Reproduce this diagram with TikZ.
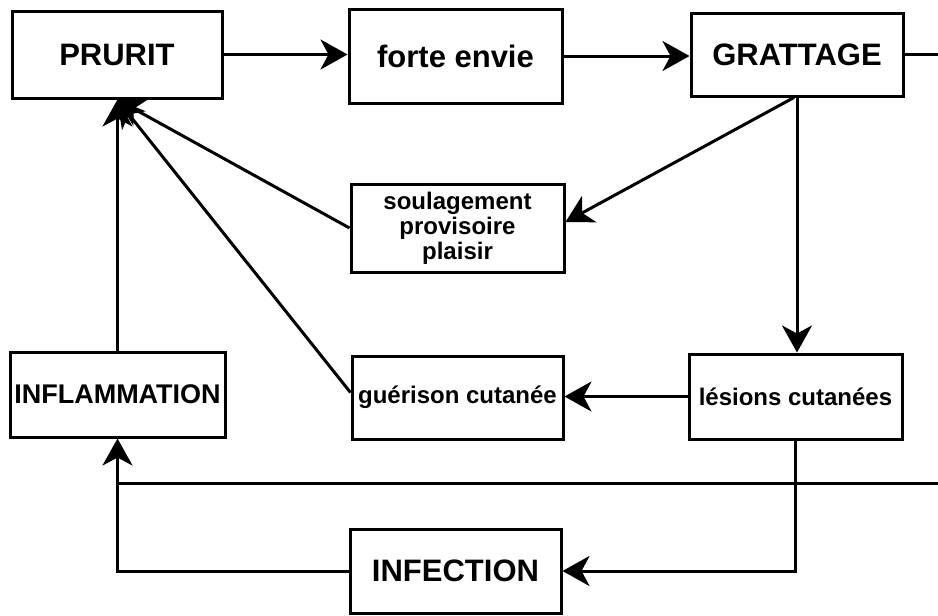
\documentclass[tikz,border=0pt]{standalone}
\usepackage{fontspec}
\setmainfont{Liberation Sans}
\usetikzlibrary{arrows.meta,calc}
\begin{document}
\begin{tikzpicture}[x=1pt,y=-1pt,
  box/.style={draw=black,line width=3pt,fill=white,inner sep=0pt,anchor=center,
    minimum width=211pt,minimum height=86pt},
  big/.style={font=\bfseries\fontsize{31}{33}\selectfont},
  small/.style={font=\bfseries\fontsize{24}{25}\selectfont,align=center},
  conn/.style={line width=3pt},
  arr/.style={conn,-{Stealth[length=27pt,width=30pt,inset=8pt]}}]
\useasboundingbox (0,0) rectangle (938,616);
% nodes
\node[box,big,minimum width=210pt,minimum height=87pt] (prurit) at (117,54.5) {PRURIT};
\node[box,big,minimum width=213pt,minimum height=94pt] (forte) at (455.5,56) {forte envie};
\node[box,big,minimum width=212pt,minimum height=83pt] (gratt) at (797,54.5) {GRATTAGE};
\node[box,small,minimum width=213pt,minimum height=88pt] (soul) at (457.5,228) {soulagement\\provisoire\\plaisir};
\node[box,font=\bfseries\fontsize{27}{29}\selectfont,minimum width=215pt,minimum height=85pt] (infl) at (117.5,394.5) {INFLAMMATION};
\node[box,small,minimum width=211pt,minimum height=83pt] (guer) at (457.5,397.5) {guérison cutanée};
\node[box,small,minimum width=213pt,minimum height=85pt] (les) at (795.5,396.5) {lésions cutanées};
\node[box,big,minimum width=211pt,minimum height=84pt] (infect) at (455.5,571) {INFECTION};
\coordinate (r1) at (938,52);
\coordinate (r2) at (938,483);
% connectors
\draw[arr] (prurit.east) -- (prurit.east -| forte.west);
\draw[arr] (forte.east) -- (forte.east -| gratt.west);
\draw[conn] (gratt.east) -- (gratt.east -| r1);
\draw[arr] (gratt.south) -- (gratt.south |- les.north);
\draw[arr] ($(gratt.south)+(-3,0)$) -- ($(soul.east)+(0,-6)$);
\draw[arr] (soul.west) -- (prurit.south);
\draw[arr] ($(guer.west)+(0,-5)$) -- (prurit.south);
\draw[arr] (les.west) -- (les.west -| guer.east);
\draw[arr] (infl.north) -- (infl.north |- prurit.south);
\draw[arr] (les.south) |- (infect.east);
\draw[arr] (infect.west) -| (infl.south);
\draw[conn] (r2) -- (r2 -| infl.south);
\end{tikzpicture}
\end{document}
